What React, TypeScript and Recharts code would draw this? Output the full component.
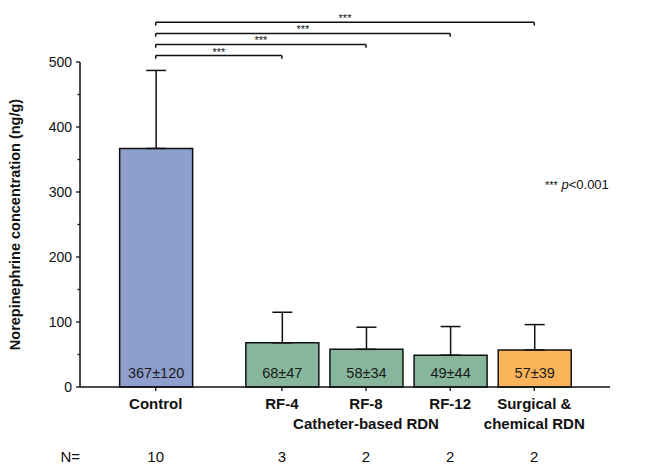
import { Bar, BarChart, Cell, ErrorBar, LabelList, ReferenceLine, XAxis, YAxis } from "recharts";

const FONT = "'Liberation Sans', Arial, Helvetica, sans-serif";

const categories = ["Control", "RF-4", "RF-8", "RF-12", "Surgical & chemical RDN"];
const xPositions = [1, 2.5, 3.5, 4.5, 5.5];
const means = [367, 68, 58, 49, 57];
const sds = [120, 47, 34, 44, 39];
const groupSizes = [10, 3, 2, 2, 2];
const tickLines = [["Control"], ["RF-4"], ["RF-8", "Catheter-based RDN"], ["RF-12"], ["Surgical &", "chemical RDN"]];
const barColors = ["#8e9fcd", "#86b79c", "#86b79c", "#86b79c", "#fcb45a"];
const yTicks = [0, 50, 100, 150, 200, 250, 300, 350, 400, 450, 500];

// significance brackets: Control vs each group
const bracketTargets = [1, 2, 3, 4];
const bracketLevels = [510, 527, 544, 561];
const bracketStars = ["***", "***", "***", "***"];

const data = categories.map((name, i) => ({
  name,
  x: xPositions[i],
  mean: means[i],
  err: [0, sds[i]],
  label: `${means[i]}±${sds[i]}`
}));

function YTick({ x, y, payload }: any) {
  const major = payload.value % 100 === 0;
  return (
    <g>
      <line x1={x - (major ? 4 : 2.5)} x2={x} y1={y} y2={y} stroke="#111" strokeWidth={1.3} />
      {major && (
        <text x={x - 8} y={y} dy={5} textAnchor="end" fontSize={14} fill="#111" fontFamily={FONT}>
          {payload.value}
        </text>
      )}
    </g>
  );
}

function XTick({ x, y, payload }: any) {
  const i = xPositions.indexOf(payload.value);
  if (i < 0) return null;
  return (
    <g fontFamily={FONT} fill="#111">
      {tickLines[i].map((line, k) => (
        <text key={line} x={x} y={y + 17.5 + k * 20} textAnchor="middle" fontSize={15} fontWeight="bold">
          {line}
        </text>
      ))}
      <text x={x} y={y + 70.5} textAnchor="middle" fontSize={15}>
        {groupSizes[i]}
      </text>
    </g>
  );
}

function NLabel({ viewBox }: any) {
  return (
    <text x={viewBox.x} y={viewBox.y + 74.5} textAnchor="end" fontSize={15} fill="#111" fontFamily={FONT}>
      N=
    </text>
  );
}

function BarText({ x, y, width, height, value }: any) {
  return (
    <text x={x + width / 2} y={y + height - 9} textAnchor="middle" fontSize={14.5} fill="#1a1a1a" fontFamily={FONT}>
      {value}
    </text>
  );
}

export default function App() {
  return (
    <div style={{ position: "absolute", left: 0, top: 0, width: 646, height: 469, background: "#fff", fontFamily: FONT }}>
      <BarChart width={646} height={469} data={data} margin={{ top: 62, right: 36, bottom: 0, left: 0 }}>
        <XAxis
          type="number"
          dataKey="x"
          domain={[0.1, 6.4]}
          ticks={xPositions}
          interval={0}
          tick={<XTick />}
          tickSize={4}
          tickMargin={0}
          height={82}
          axisLine={{ stroke: "#111", strokeWidth: 1.5 }}
          tickLine={{ stroke: "#111", strokeWidth: 1.3 }}
          label={<NLabel />}
        />
        <YAxis
          type="number"
          domain={[0, 500]}
          ticks={yTicks}
          interval={0}
          width={80}
          tickSize={0}
          tickMargin={0}
          tickLine={false}
          tick={<YTick />}
          axisLine={{ stroke: "#111", strokeWidth: 1.5 }}
          label={{
            value: "Norepinephrine concentration (ng/g)",
            angle: -90,
            position: "insideLeft",
            offset: 15,
            style: { textAnchor: "middle", fontSize: 14.5, fontWeight: "bold", fill: "#111", fontFamily: FONT }
          }}
        />
        <Bar dataKey="mean" barSize={73} stroke="#111" strokeWidth={1.5} isAnimationActive={false}>
          {data.map((d, i) => (
            <Cell key={d.name} fill={barColors[i]} />
          ))}
          <ErrorBar dataKey="err" width={10} stroke="#111" strokeWidth={1.5} direction="y" isAnimationActive={false} />
          <LabelList dataKey="label" content={<BarText />} />
        </Bar>
        {bracketTargets.map((t, i) => {
          const x1 = xPositions[0];
          const x2 = xPositions[t];
          const lv = bracketLevels[i];
          return [
            <ReferenceLine
              key={`h${i}`}
              segment={[{ x: x1, y: lv }, { x: x2, y: lv }]}
              ifOverflow="visible"
              stroke="#111"
              strokeWidth={1.5}
              label={{ value: bracketStars[i], position: "top", offset: 0, fontSize: 11, fill: "#111", style: { fill: "#111" }, fontFamily: FONT }}
            />,
            <ReferenceLine key={`l${i}`} segment={[{ x: x1, y: lv }, { x: x1, y: lv - 5 }]} ifOverflow="visible" stroke="#111" strokeWidth={1.5} />,
            <ReferenceLine key={`r${i}`} segment={[{ x: x2, y: lv }, { x: x2, y: lv - 5 }]} ifOverflow="visible" stroke="#111" strokeWidth={1.5} />
          ];
        })}
      </BarChart>
      <div style={{ position: "absolute", left: 545, top: 177, fontSize: 13, color: "#111", whiteSpace: "nowrap", lineHeight: "16px" }}>
        <span style={{ fontSize: 11 }}>***</span> <i>p</i>&lt;0.001
      </div>
    </div>
  );
}
